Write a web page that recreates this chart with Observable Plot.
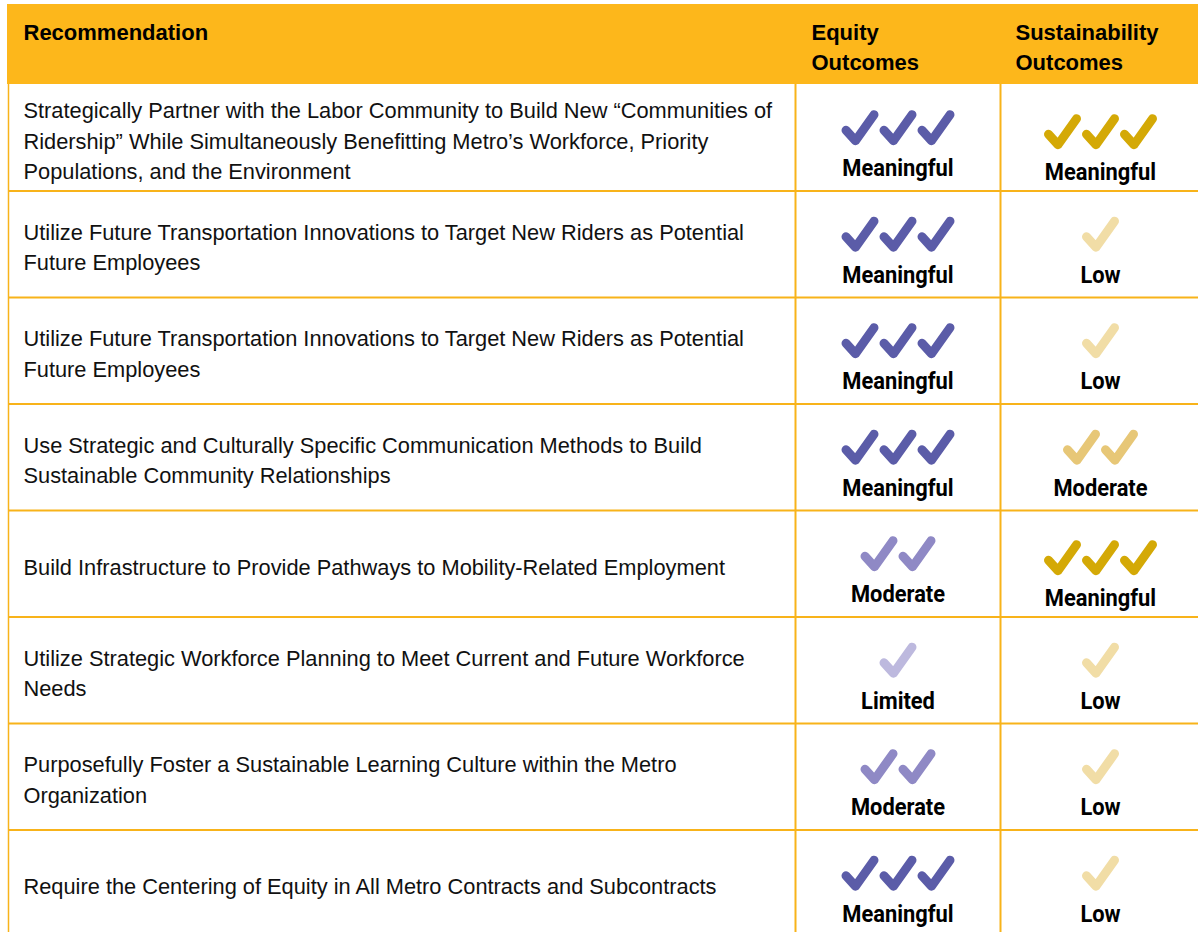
<!DOCTYPE html>
<html><head><meta charset="utf-8">
<script src="https://cdn.jsdelivr.net/npm/d3@7"></script>
<script src="https://cdn.jsdelivr.net/npm/@observablehq/plot@0.6"></script>
<style>body{margin:0;background:#fff}</style>
</head><body>
<script>
// ---- data ----
const headers = ["Recommendation", "Equity\nOutcomes", "Sustainability\nOutcomes"];
const recommendations = [
  "Strategically Partner with the Labor Community to Build New \u201cCommunities of\nRidership\u201d While Simultaneously Benefitting Metro\u2019s Workforce, Priority\nPopulations, and the Environment",
  "Utilize Future Transportation Innovations to Target New Riders as Potential\nFuture Employees",
  "Utilize Future Transportation Innovations to Target New Riders as Potential\nFuture Employees",
  "Use Strategic and Culturally Specific Communication Methods to Build\nSustainable Community Relationships",
  "Build Infrastructure to Provide Pathways to Mobility-Related Employment",
  "Utilize Strategic Workforce Planning to Meet Current and Future Workforce\nNeeds",
  "Purposefully Foster a Sustainable Learning Culture within the Metro\nOrganization",
  "Require the Centering of Equity in All Metro Contracts and Subcontracts"
];
const equityOutcomes = ["Meaningful","Meaningful","Meaningful","Meaningful","Moderate","Limited","Moderate","Meaningful"];
const sustainabilityOutcomes = ["Meaningful","Low","Low","Moderate","Meaningful","Low","Low","Low"];
const levels = ["Meaningful","Moderate","Limited","Low"];
const checkCounts = [3, 2, 1, 1];

// ---- layout & style ----
const W = 1198, H = 932;
const tableLeft = 8, col1 = 795, col2 = 1000;
const headerTop = 4, headerBottom = 84, rowStep = 106.5;
const orange = "#FDB71B", line = "#F8B31A";
const equityColors = {Meaningful: "#5B5CA8", Moderate: "#8F89C5", Limited: "#BDB9DE"};
const sustColors = {Meaningful: "#D4A906", Moderate: "#E7C777", Low: "#F1DDA6"};
const bodyFont = "'Liberation Sans', Arial, sans-serif";
const labelFont = "Roboto, 'Liberation Sans', sans-serif";
const labelSqueeze = 0.93;

const rowTop = i => headerBottom + i * rowStep;
const rowMid = i => rowTop(i) + rowStep / 2;
const columns = [
  {key: "equity", center: (col1 + col2) / 2, values: equityOutcomes, colors: equityColors},
  {key: "sust", center: (col2 + W) / 2 + 1, values: sustainabilityOutcomes, colors: sustColors}
];

const checks = [], labels = [];
recommendations.forEach((_, i) => {
  for (const c of columns) {
    const lvl = c.values[i];
    const n = checkCounts[levels.indexOf(lvl)];
    const heavy = c.key === "sust" && lvl === "Meaningful";
    const cy = rowMid(i) + (heavy ? -5.5 : -9.5);
    for (let k = 0; k < n; k++) {
      checks.push({x: c.center + (k - (n - 1) / 2) * 38, y: cy, color: c.colors[lvl]});
    }
    labels.push({x: c.center, y: rowMid(i) + (heavy ? 42 : 38.5) - 7.6, text: lvl});
  }
});

const checkSymbol = {
  draw(ctx) {
    ctx.moveTo(-14, 2);
    ctx.lineTo(-4.5, 12.5);
    ctx.lineTo(14, -13.5);
  }
};

const rowLines = d3.range(1, recommendations.length).map(rowTop);

const chart = Plot.plot({
  width: W, height: H,
  margin: 0,
  x: {domain: [0, W], range: [0, W], axis: null},
  y: {domain: [0, H], range: [0, H], axis: null},
  color: {type: "identity"},
  style: {background: "#fff", overflow: "visible"},
  marks: [
    Plot.rect([0], {x1: 7, x2: W, y1: headerTop, y2: headerBottom, fill: orange}),
    Plot.ruleY(rowLines, {y: d => d, x1: tableLeft, x2: W, stroke: line, strokeWidth: 2}),
    Plot.ruleX([tableLeft], {x: d => d, y1: headerBottom, y2: H, stroke: line, strokeWidth: 1.5}),
    Plot.ruleX([col1, col2], {x: d => d, y1: headerBottom, y2: H, stroke: line, strokeWidth: 2}),
    Plot.text(headers, {
      x: (d, i) => [23, 811, 1015][i],
      y: (d, i) => i === 0 ? 29.5 : 44.5,
      text: d => d, textAnchor: "start", lineAnchor: "middle", lineHeight: 1.36,
      fontSize: 22, fontWeight: "bold", fontFamily: bodyFont, fill: "#000"
    }),
    Plot.text(recommendations, {
      x: 23, y: (d, i) => rowMid(i) + 1,
      text: d => d, textAnchor: "start", lineAnchor: "middle", lineHeight: 1.41,
      fontSize: 21.8, fontFamily: bodyFont, fill: "#111"
    }),
    Plot.dot(checks, {
      x: "x", y: "y", symbol: checkSymbol, r: 10,
      fill: "none", stroke: "color", strokeWidth: 9,
      strokeLinecap: "round", strokeLinejoin: "round"
    }),
    Plot.text(labels, {
      x: "x", y: "y", text: "text", textAnchor: "middle", lineAnchor: "middle",
      fontSize: 23.5, fontWeight: "bold", fontFamily: labelFont, fill: "#000"
    })
  ]
});
document.body.appendChild(chart);

// condense the outcome labels horizontally (narrow bold face of the original)
const textGroups = chart.querySelectorAll('g[aria-label="text"]');
const labelGroup = textGroups[textGroups.length - 1];
labelGroup.querySelectorAll("text").forEach(t => {
  const len = t.getComputedTextLength();
  t.setAttribute("textLength", (len * labelSqueeze).toFixed(1));
  t.setAttribute("lengthAdjust", "spacingAndGlyphs");
});
</script>
</body></html>
